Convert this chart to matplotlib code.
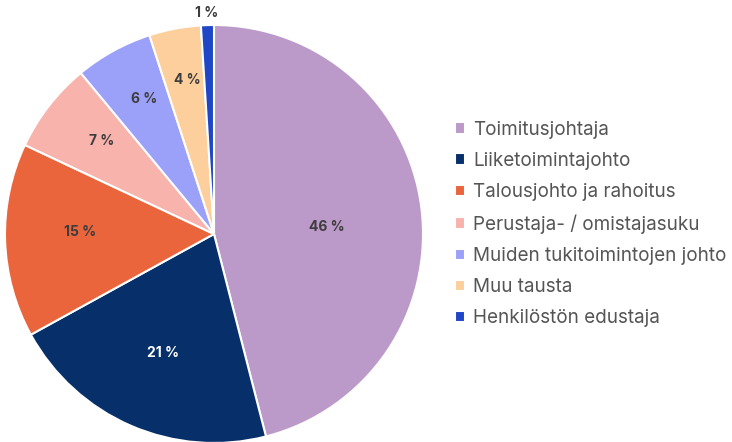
import matplotlib.pyplot as plt
import numpy as np

labels = ['Toimitusjohtaja', 'Liiketoimintajohto', 'Talousjohto ja rahoitus',
          'Perustaja- / omistajasuku', 'Muiden tukitoimintojen johto',
          'Muu tausta', 'Henkilöstön edustaja']
values = [46, 21, 15, 7, 6, 4, 1]
colors = ['#BB99C8', '#07306A', '#EA643C', '#F9B3AD', '#9BA1F9', '#FCCF9C', '#2046C8']
pct_text = ['46 %', '21 %', '15 %', '7 %', '6 %', '4 %', '1 %']
label_colors = ['#3d3d3d', 'white', '#3d3d3d', '#3d3d3d', '#3d3d3d', '#3d3d3d', '#3d3d3d']
# label placement: radial distance and small angular shift (deg)
label_dist = [0.54, 0.62, 0.64, 0.70, 0.73, 0.75, 1.06]
label_shift = [-3.7, 0, -2.7, -1.9, -1.4, -0.9, 0]

plt.rcParams['font.family'] = ['Inter', 'DejaVu Sans']

fig = plt.figure(figsize=(7.32, 4.42), dpi=100)
W, H = 732, 442
cx, cy, r = 214, 234, 209
ax = fig.add_axes([(cx - r) / W, (H - cy - r) / H, 2 * r / W, 2 * r / H])

wedges, _ = ax.pie(values, colors=colors, startangle=90, counterclock=False,
                   radius=1, wedgeprops=dict(edgecolor='white', linewidth=1.5))
ax.set_xlim(-1, 1)
ax.set_ylim(-1, 1)
ax.axis('off')

total = sum(values)
cum = 0
for v, t, c, d, s in zip(values, pct_text, label_colors, label_dist, label_shift):
    mid = 90 - 360 * (cum + v / 2) / total + s
    cum += v
    a = np.deg2rad(mid)
    ax.text(d * np.cos(a), d * np.sin(a), t, ha='center', va='center',
            fontsize=10, fontweight='bold', color=c)

leg = fig.legend(wedges, labels, loc='center left', bbox_to_anchor=(455 / W, 1 - 224 / H),
                 frameon=False, fontsize=13.6, handlelength=0.55, handleheight=0.55,
                 handletextpad=0.4, labelspacing=0.7, borderaxespad=0, borderpad=0)
for txt in leg.get_texts():
    txt.set_color('#555555')

fig.savefig('out.png', dpi=100)
